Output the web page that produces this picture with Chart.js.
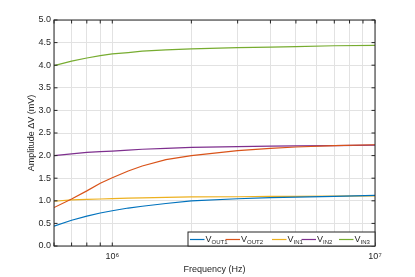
<!DOCTYPE html>
<html>
<head>
<meta charset="utf-8">
<script src="https://cdn.jsdelivr.net/npm/chart.js@4.4.1/dist/chart.umd.min.js"></script>
<style>
  html, body { margin: 0; padding: 0; background: #fff; }
  #ampChart { display: block; }
</style>
</head>
<body>
<canvas id="ampChart" width="415" height="277"></canvas>
<script>
// frequency sweep (Hz) and measured amplitudes (mV)
const freqHz = [6e5, 7e5, 8e5, 9e5, 1e6, 1.15e6, 1.3e6, 1.6e6, 2e6, 3e6, 4e6, 5e6, 7e6, 1e7];
const vOut1 = [0.44, 0.57, 0.66, 0.73, 0.78, 0.84, 0.88, 0.94, 1.00, 1.045, 1.07, 1.08, 1.10, 1.12];
const vOut2 = [0.85, 1.04, 1.22, 1.39, 1.51, 1.66, 1.77, 1.91, 2.00, 2.11, 2.16, 2.19, 2.22, 2.24];
const vIn1 = [0.99, 1.02, 1.03, 1.04, 1.05, 1.06, 1.065, 1.075, 1.085, 1.09, 1.10, 1.10, 1.105, 1.11];
const vIn2 = [2.00, 2.04, 2.07, 2.09, 2.10, 2.12, 2.14, 2.16, 2.18, 2.20, 2.21, 2.215, 2.22, 2.23];
const vIn3 = [3.99, 4.09, 4.16, 4.21, 4.25, 4.28, 4.31, 4.34, 4.36, 4.39, 4.40, 4.41, 4.43, 4.44];

const seriesSubs = ['OUT1', 'OUT2', 'IN1', 'IN2', 'IN3'];
const seriesColors = ['#0072BD', '#D95319', '#EDB120', '#7E2F8E', '#77AC30'];

const xTickValues = [6e5, 7e5, 8e5, 9e5, 1e6, 2e6, 3e6, 4e6, 5e6, 6e6, 7e6, 8e6, 9e6, 1e7];
const xMajorTicks = [1e6, 1e7];
const xMajorLabels = ['10\u2076', '10\u2077'];

const FONT = "'Liberation Sans', Arial, Helvetica, sans-serif";
const INK = '#262626';

function toPoints(values) {
    return freqHz.map((f, i) => ({ x: f, y: values[i] }));
}

const allSeries = [vOut1, vOut2, vIn1, vIn2, vIn3];

// MATLAB style box with inward ticks on all four sides
const boxAxes = {
    id: 'boxAxes',
    afterDatasetsDraw(chart) {
        const { ctx, chartArea: a, scales } = chart;
        const tl = 3.5;
        ctx.save();
        ctx.strokeStyle = INK;
        ctx.lineWidth = 1;
        ctx.beginPath();
        scales.x.ticks.forEach(t => {
            const px = scales.x.getPixelForValue(t.value);
            ctx.moveTo(px, a.bottom); ctx.lineTo(px, a.bottom - tl);
            ctx.moveTo(px, a.top); ctx.lineTo(px, a.top + tl);
        });
        scales.y.ticks.forEach(t => {
            const py = scales.y.getPixelForValue(t.value);
            ctx.moveTo(a.left, py); ctx.lineTo(a.left + tl, py);
            ctx.moveTo(a.right, py); ctx.lineTo(a.right - tl, py);
        });
        ctx.stroke();
        ctx.strokeRect(a.left, a.top, a.right - a.left, a.bottom - a.top);
        ctx.restore();
    }
};

// horizontal legend with subscripted labels, bottom right inside the axes
const subLegend = {
    id: 'subLegend',
    afterDraw(chart) {
        const { ctx, chartArea: a } = chart;
        const w = 187, h = 14;
        const left = a.right - w, top = a.bottom - h;
        const offsets = [2, 37.5, 84, 113.5, 151];
        ctx.save();
        ctx.fillStyle = '#fff';
        ctx.fillRect(left, top, w, h);
        ctx.strokeStyle = INK;
        ctx.lineWidth = 1;
        ctx.strokeRect(left, top, w, h);
        chart.data.datasets.forEach((ds, i) => {
            const x0 = left + offsets[i];
            const ly = a.bottom - 6.5;
            ctx.strokeStyle = ds.borderColor;
            ctx.lineWidth = 1.2;
            ctx.beginPath();
            ctx.moveTo(x0, ly);
            ctx.lineTo(x0 + 14.5, ly);
            ctx.stroke();
            ctx.fillStyle = INK;
            ctx.textBaseline = 'alphabetic';
            ctx.textAlign = 'left';
            ctx.font = '9px ' + FONT;
            const tx = x0 + 15.5;
            ctx.fillText('V', tx, a.bottom - 4.3);
            const vw = ctx.measureText('V').width;
            ctx.font = '6px ' + FONT;
            ctx.fillText(seriesSubs[i], tx + vw, a.bottom - 1.6);
        });
        ctx.restore();
    }
};

const ctx = document.getElementById('ampChart').getContext('2d');
const ampChart = new Chart(ctx, {
    type: 'line',
    data: {
        datasets: allSeries.map((vals, i) => ({
            label: 'V' + seriesSubs[i],
            data: toPoints(vals),
            borderColor: seriesColors[i],
            backgroundColor: seriesColors[i],
            borderWidth: 1.2,
            pointRadius: 0,
            tension: 0,
            fill: false
        }))
    },
    options: {
        responsive: false,
        animation: false,
        devicePixelRatio: 1,
        layout: { padding: { left: 0, top: 20, right: 40, bottom: 0 } },
        plugins: {
            legend: { display: false },
            tooltip: { enabled: false }
        },
        scales: {
            x: {
                type: 'logarithmic',
                min: 6e5,
                max: 1e7,
                afterBuildTicks(scale) {
                    scale.ticks = xTickValues.map(v => ({ value: v }));
                },
                afterFit(scale) { scale.height = 31; },
                ticks: {
                    autoSkip: false,
                    maxRotation: 0,
                    padding: 5,
                    color: INK,
                    font: { family: FONT, size: 9 },
                    callback(value) {
                        const k = xMajorTicks.indexOf(value);
                        return k >= 0 ? xMajorLabels[k] : '';
                    }
                },
                grid: { color: '#e2e2e2', lineWidth: 1, drawTicks: false },
                border: { display: false },
                title: {
                    display: true,
                    text: 'Frequency (Hz)',
                    color: INK,
                    font: { family: FONT, size: 9 },
                    padding: { top: 0, bottom: 2 }
                }
            },
            y: {
                min: 0,
                max: 5,
                afterFit(scale) { scale.width = 54; },
                ticks: {
                    stepSize: 0.5,
                    padding: 3,
                    color: INK,
                    font: { family: FONT, size: 9 },
                    callback(value) { return value.toFixed(1); }
                },
                grid: { color: '#e2e2e2', lineWidth: 1, drawTicks: false },
                border: { display: false },
                title: {
                    display: true,
                    text: 'Amplitude \u0394V (mV)',
                    color: INK,
                    font: { family: FONT, size: 9 },
                    padding: { top: 26, bottom: 0 }
                }
            }
        }
    },
    plugins: [boxAxes, subLegend]
});
</script>
</body>
</html>
